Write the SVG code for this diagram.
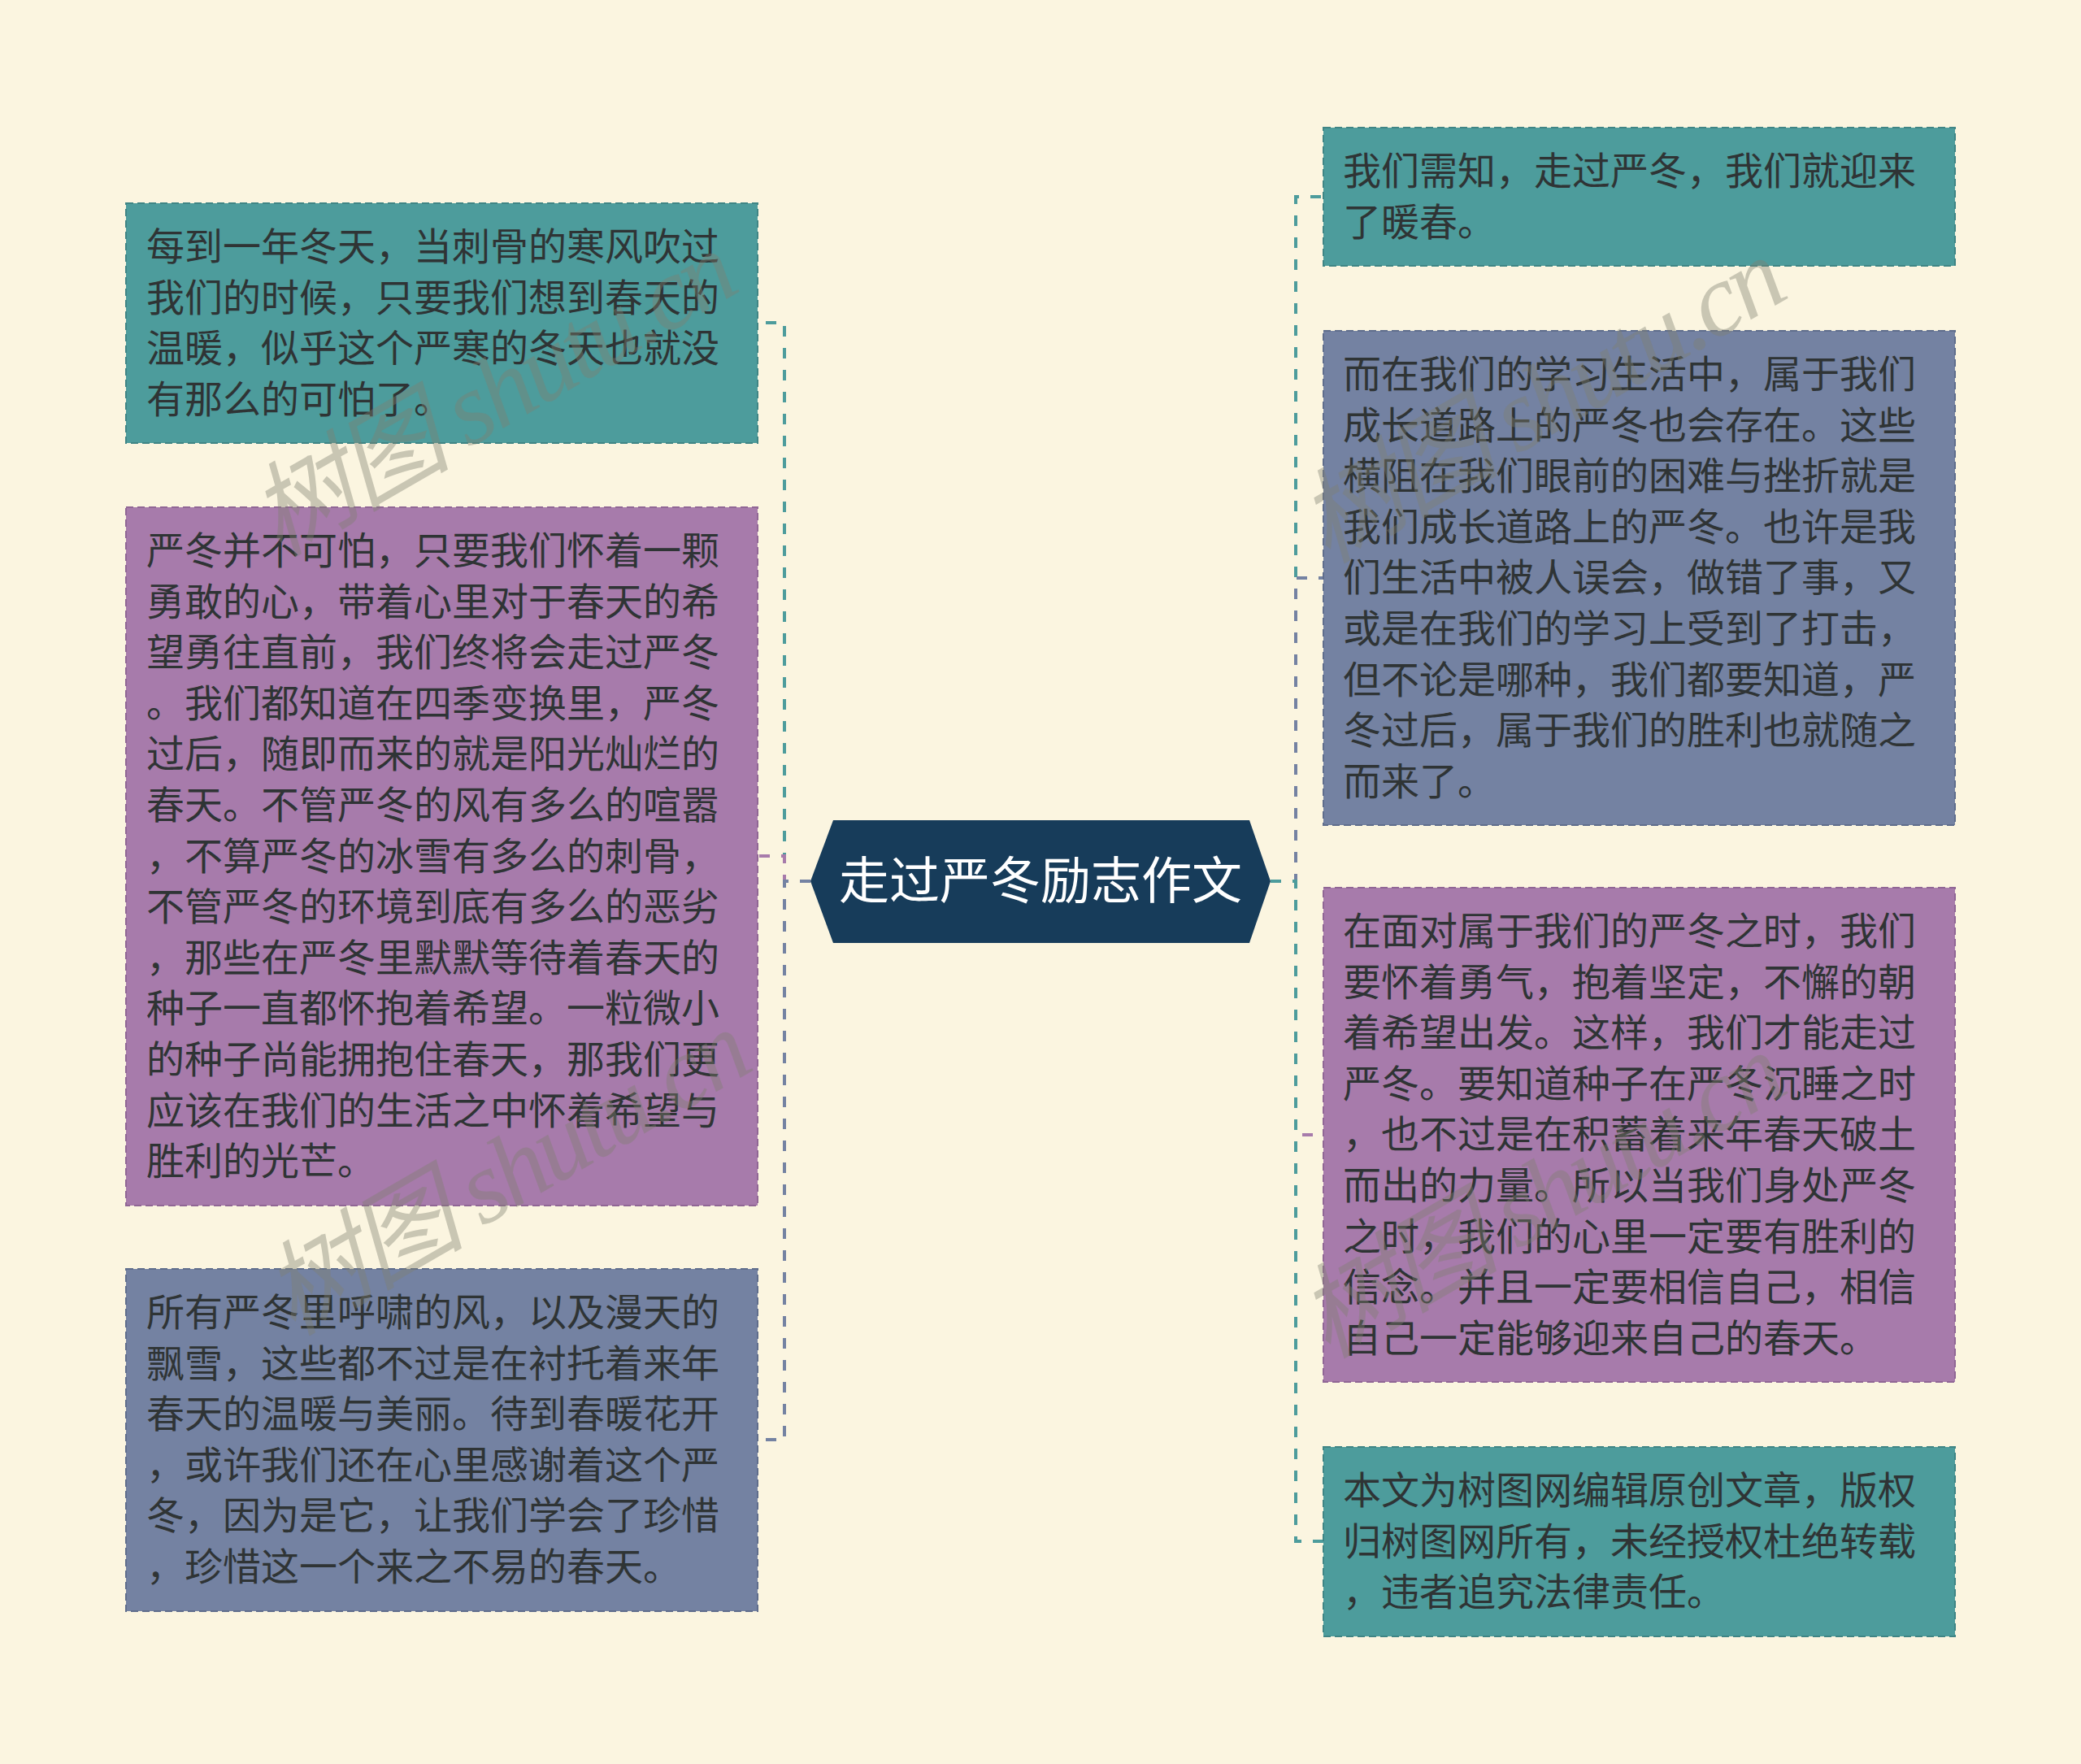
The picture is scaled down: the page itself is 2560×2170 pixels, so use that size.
<svg xmlns="http://www.w3.org/2000/svg" width="2560" height="2170" viewBox="0 0 2560 2170">
<style>
.bg{fill:#fbf5e0}
.box{stroke-width:2;stroke-dasharray:9 5}
.teal{fill:#4d9c9c;stroke:#3f8585}
.purp{fill:#a77bab;stroke:#906695}
.slate{fill:#7482a2;stroke:#5f6d8c}
.t{font-family:"Noto Sans CJK SC","Noto Sans",sans-serif;font-size:47px;fill:#2f3435}
.ct{font-family:"Noto Sans CJK SC","Noto Sans",sans-serif;font-size:62px;fill:#ffffff}
.c{fill:none;stroke-width:4;stroke-dasharray:13 14}
.wm{font-family:"Liberation Serif","Noto Sans CJK SC",serif;font-style:italic;font-size:126px;fill:#808070;fill-opacity:0.4}
</style>
<rect class="bg" x="0" y="0" width="2560" height="2170"/>
<g id="connectors">
<path class="c" stroke="#4d9c9c" d="M997 1084 H965 V397 H932"/>
<path class="c" stroke="#a77bab" d="M997 1084 H965 V1053 H932"/>
<path class="c" stroke="#7482a2" d="M997 1084 H965 V1771 H932"/>
<path class="c" stroke="#4d9c9c" d="M1563 1084 H1594 V242 H1628"/>
<path class="c" stroke="#7482a2" d="M1563 1084 H1594 V711 H1628"/>
<path class="c" stroke="#a77bab" d="M1563 1084 H1594 V1396 H1628"/>
<path class="c" stroke="#4d9c9c" d="M1563 1084 H1594 V1896 H1628"/>
</g>
<g id="center">
<polygon points="1025,1009 1537,1009 1563,1084 1537,1160 1025,1160 997,1084" fill="#173c5a"/>
<text class="ct" x="1280" y="1106" text-anchor="middle">走过严冬励志作文</text>
</g>
<g id="left1">
<rect class="box teal" x="155" y="250" width="777" height="295"/>
<text class="t"><tspan x="180" y="320">每到一年冬天，当刺骨的寒风吹过</tspan><tspan x="180" y="382.6">我们的时候，只要我们想到春天的</tspan><tspan x="180" y="445.2">温暖，似乎这个严寒的冬天也就没</tspan><tspan x="180" y="507.8">有那么的可怕了。</tspan></text>
</g>
<g id="left2">
<rect class="box purp" x="155" y="624" width="777" height="859"/>
<text class="t"><tspan x="180" y="694">严冬并不可怕，只要我们怀着一颗</tspan><tspan x="180" y="756.6">勇敢的心，带着心里对于春天的希</tspan><tspan x="180" y="819.2">望勇往直前，我们终将会走过严冬</tspan><tspan x="180" y="881.8">。我们都知道在四季变换里，严冬</tspan><tspan x="180" y="944.4">过后，随即而来的就是阳光灿烂的</tspan><tspan x="180" y="1007">春天。不管严冬的风有多么的喧嚣</tspan><tspan x="180" y="1069.6">，不算严冬的冰雪有多么的刺骨，</tspan><tspan x="180" y="1132.2">不管严冬的环境到底有多么的恶劣</tspan><tspan x="180" y="1194.8">，那些在严冬里默默等待着春天的</tspan><tspan x="180" y="1257.4">种子一直都怀抱着希望。一粒微小</tspan><tspan x="180" y="1320">的种子尚能拥抱住春天，那我们更</tspan><tspan x="180" y="1382.6">应该在我们的生活之中怀着希望与</tspan><tspan x="180" y="1445.2">胜利的光芒。</tspan></text>
</g>
<g id="left3">
<rect class="box slate" x="155" y="1561" width="777" height="421"/>
<text class="t"><tspan x="180" y="1631">所有严冬里呼啸的风，以及漫天的</tspan><tspan x="180" y="1693.6">飘雪，这些都不过是在衬托着来年</tspan><tspan x="180" y="1756.2">春天的温暖与美丽。待到春暖花开</tspan><tspan x="180" y="1818.8">，或许我们还在心里感谢着这个严</tspan><tspan x="180" y="1881.4">冬，因为是它，让我们学会了珍惜</tspan><tspan x="180" y="1944">，珍惜这一个来之不易的春天。</tspan></text>
</g>
<g id="right1">
<rect class="box teal" x="1628" y="157" width="777" height="170"/>
<text class="t"><tspan x="1652" y="227">我们需知，走过严冬，我们就迎来</tspan><tspan x="1652" y="289.6">了暖春。</tspan></text>
</g>
<g id="right2">
<rect class="box slate" x="1628" y="407" width="777" height="608"/>
<text class="t"><tspan x="1652" y="477">而在我们的学习生活中，属于我们</tspan><tspan x="1652" y="539.6">成长道路上的严冬也会存在。这些</tspan><tspan x="1652" y="602.2">横阻在我们眼前的困难与挫折就是</tspan><tspan x="1652" y="664.8">我们成长道路上的严冬。也许是我</tspan><tspan x="1652" y="727.4">们生活中被人误会，做错了事，又</tspan><tspan x="1652" y="790">或是在我们的学习上受到了打击，</tspan><tspan x="1652" y="852.6">但不论是哪种，我们都要知道，严</tspan><tspan x="1652" y="915.2">冬过后，属于我们的胜利也就随之</tspan><tspan x="1652" y="977.8">而来了。</tspan></text>
</g>
<g id="right3">
<rect class="box purp" x="1628" y="1092" width="777" height="608"/>
<text class="t"><tspan x="1652" y="1162">在面对属于我们的严冬之时，我们</tspan><tspan x="1652" y="1224.6">要怀着勇气，抱着坚定，不懈的朝</tspan><tspan x="1652" y="1287.2">着希望出发。这样，我们才能走过</tspan><tspan x="1652" y="1349.8">严冬。要知道种子在严冬沉睡之时</tspan><tspan x="1652" y="1412.4">，也不过是在积蓄着来年春天破土</tspan><tspan x="1652" y="1475">而出的力量。所以当我们身处严冬</tspan><tspan x="1652" y="1537.6">之时，我们的心里一定要有胜利的</tspan><tspan x="1652" y="1600.2">信念。并且一定要相信自己，相信</tspan><tspan x="1652" y="1662.8">自己一定能够迎来自己的春天。</tspan></text>
</g>
<g id="right4">
<rect class="box teal" x="1628" y="1780" width="777" height="233"/>
<text class="t"><tspan x="1652" y="1850">本文为树图网编辑原创文章，版权</tspan><tspan x="1652" y="1912.6">归树图网所有，未经授权杜绝转载</tspan><tspan x="1652" y="1975.2">，违者追究法律责任。</tspan></text>
</g>
<g id="watermarks">
<text class="wm" transform="translate(343 686) rotate(-30)" textLength="660" lengthAdjust="spacing">树图 shutu.cn</text>
<text class="wm" transform="translate(360 1644) rotate(-30)" textLength="660" lengthAdjust="spacing">树图 shutu.cn</text>
<text class="wm" transform="translate(1633 694) rotate(-30)" textLength="660" lengthAdjust="spacing">树图 shutu.cn</text>
<text class="wm" transform="translate(1633 1672) rotate(-30)" textLength="660" lengthAdjust="spacing">树图 shutu.cn</text>
</g>
</svg>
